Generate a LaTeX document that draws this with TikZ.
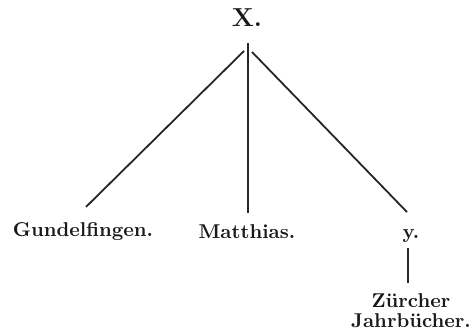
\documentclass[tikz,border=0pt]{standalone}
\usepackage{tikz}
\usetikzlibrary{calc}
\tikzset{
  headnode/.style={font=\bfseries\fontsize{13}{15}\selectfont, text=black!90},
  leafnode/.style={font=\bfseries\fontsize{10}{12}\selectfont, text=black!90, anchor=base},
  srcnode/.style={font=\bfseries\fontsize{10}{10}\selectfont, text=black!90, align=center, anchor=north},
  branch/.style={line width=0.9pt, draw=black!85}
}
\begin{document}
\begin{tikzpicture}[x=0.5pt, y=-0.5pt]
  \useasboundingbox (0,0) rectangle (475,333);

  \node[headnode] at (247,18) (head) {X.};
  \node[leafnode] at (83,236) (gund) {Gundelfingen.};
  \node[leafnode] at (247,238) (matt) {Matthias.};
  \node[leafnode] at (411,238) (yy) {y.};
  \node[srcnode] at (411,287) (zjb) {Zürcher\\Jahrbücher.};

  \draw[branch] ($(head.south)+(-3,17)$) -- ($(gund.north)+(3,-8)$);
  \draw[branch] ($(head.south)+(1,9)$) -- ($(matt.north)+(1,-4)$);
  \draw[branch] ($(head.south)+(5,18)$) -- ($(yy.north)+(-4,-10)$);
  \draw[branch] ($(yy.south)+(-3,-1)$) -- ($(zjb.north)+(-3,-4)$);
\end{tikzpicture}
\end{document}
